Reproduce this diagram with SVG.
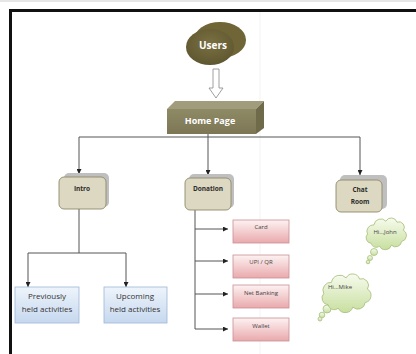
<svg xmlns="http://www.w3.org/2000/svg" width="416" height="354" viewBox="0 0 416 354">
<defs>
<style>
.lbl{font-family:"Open Sans","Liberation Sans",sans-serif;text-anchor:middle}
.wb{fill:#ffffff;font-weight:bold}
.db{fill:#2b2b2b;font-weight:bold;font-size:6.5px}
.blue{fill:url(#gBlue);stroke:#9fb6d6;stroke-width:0.8}
.pink{fill:url(#gPink);stroke:#c99093;stroke-width:0.8}
.tan{fill:#ddd8c1;stroke:#8f8a6a;stroke-width:0.9}
.shadow{fill:#bfbfbf}
.cloud{fill:url(#gCloud);stroke:#a7bf7c;stroke-width:0.8}
.conn{fill:none;stroke:#555;stroke-width:1}
.bt{fill:#333;font-size:8px}
.pt{fill:#444;font-size:6px}
</style>
<linearGradient id="gBlue" x1="0" y1="0" x2="0" y2="1"><stop offset="0" stop-color="#eef4fb"/><stop offset="1" stop-color="#c6d8ef"/></linearGradient>
<linearGradient id="gPink" x1="0" y1="0" x2="0" y2="1"><stop offset="0" stop-color="#fdf2f2"/><stop offset="1" stop-color="#e9a9ac"/></linearGradient>
<linearGradient id="gCloud" x1="0" y1="0" x2="0" y2="1"><stop offset="0" stop-color="#f7fbee"/><stop offset="1" stop-color="#c8df9f"/></linearGradient>
<linearGradient id="gFront" x1="0" y1="0" x2="0" y2="1"><stop offset="0" stop-color="#8f8a66"/><stop offset="1" stop-color="#7c7654"/></linearGradient>
<radialGradient id="gUser" cx="0.5" cy="0.4" r="0.6"><stop offset="0" stop-color="#7a7042"/><stop offset="1" stop-color="#5f5730"/></radialGradient>
<marker id="ah" viewBox="0 0 6 6" refX="6" refY="3" markerWidth="5" markerHeight="5" orient="auto" markerUnits="userSpaceOnUse"><path d="M0,0 L6,3 L0,6 Z" fill="#222"/></marker>
<path id="cloudShape" d="M20,55 A12,12 0 0 1 12,35 A14,14 0 0 1 26,15 A15,15 0 0 1 52,7 A13,13 0 0 1 76,9 A12,12 0 0 1 90,27 A13,13 0 0 1 86,51 A13,13 0 0 1 64,59 A14,14 0 0 1 38,61 A11,11 0 0 1 20,55 Z"/>
</defs>
<rect x="0" y="0" width="416" height="354" fill="#ffffff"/>
<rect x="0" y="0" width="416" height="2" fill="#e6e6e6"/>
<line x1="260" y1="12" x2="260" y2="354" stroke="#f0f0f0" stroke-width="0.8"/>
<g id="frame">
<line x1="9" y1="10.5" x2="416" y2="10.5" stroke="#111" stroke-width="3"/>
<line x1="10.5" y1="9" x2="10.5" y2="354" stroke="#111" stroke-width="3"/>
</g>
<g id="connectors">
<polygon points="213,69 219,69 219,88 223,88 216,98 209,88 213,88" fill="#fff" stroke="#888" stroke-width="0.8"/>
<line class="conn" x1="79" y1="137" x2="360" y2="137"/>
<line class="conn" x1="79" y1="137" x2="79" y2="174" marker-end="url(#ah)"/>
<line class="conn" x1="208" y1="134" x2="208" y2="175" marker-end="url(#ah)"/>
<line class="conn" x1="360" y1="137" x2="360" y2="175" marker-end="url(#ah)"/>
<line class="conn" x1="79" y1="209" x2="79" y2="253"/>
<line class="conn" x1="28" y1="253" x2="126" y2="253"/>
<line class="conn" x1="28" y1="253" x2="28" y2="287" marker-end="url(#ah)"/>
<line class="conn" x1="126" y1="253" x2="126" y2="287" marker-end="url(#ah)"/>
<line class="conn" x1="195" y1="210" x2="195" y2="329"/>
<line class="conn" x1="195" y1="229" x2="228" y2="229" marker-end="url(#ah)"/>
<line class="conn" x1="195" y1="261" x2="228" y2="261" marker-end="url(#ah)"/>
<line class="conn" x1="195" y1="294" x2="228" y2="294" marker-end="url(#ah)"/>
<line class="conn" x1="195" y1="329" x2="228" y2="329" marker-end="url(#ah)"/>
</g>
<g id="users">
<ellipse cx="220" cy="40" rx="26" ry="18" fill="#6f6536"/>
<ellipse cx="210" cy="47" rx="24" ry="18" fill="url(#gUser)"/>
<text class="lbl wb" x="213" y="49" font-size="10">Users</text>
</g>
<g id="home">
<polygon points="167,109 175,101 264,101 256,109" fill="#a19c7c"/>
<polygon points="256,109 264,101 264,128 256,134" fill="#6f6a49"/>
<rect x="167" y="109" width="89" height="25" fill="url(#gFront)"/>
<text class="lbl wb" x="210" y="124" font-size="9">Home Page</text>
</g>
<g id="intro">
<rect class="shadow" x="64" y="173" width="45" height="34" rx="5"/>
<rect class="tan" x="59" y="177" width="47" height="32" rx="5"/>
<text class="lbl db" x="82" y="191" font-size="7.5">Intro</text>
</g>
<g id="donation">
<rect class="shadow" x="189" y="174" width="45" height="34" rx="5"/>
<rect class="tan" x="185" y="178" width="46" height="32" rx="5"/>
<text class="lbl db" x="208" y="191">Donation</text>
</g>
<g id="chatroom">
<rect class="shadow" x="340" y="175" width="47" height="34" rx="5"/>
<rect class="tan" x="336" y="180" width="46" height="32" rx="5"/>
<text class="lbl db" x="360" y="192">Chat</text>
<text class="lbl db" x="360" y="204">Room</text>
</g>
<g id="previously">
<rect class="blue" x="15" y="287" width="64" height="36"/>
<text class="lbl bt" x="47" y="299">Previously</text>
<text class="lbl bt" x="47" y="312">held activities</text>
</g>
<g id="upcoming">
<rect class="blue" x="104" y="287" width="63" height="36"/>
<text class="lbl bt" x="135" y="299">Upcoming</text>
<text class="lbl bt" x="135" y="312">held activities</text>
</g>
<g id="card">
<rect class="pink" x="233" y="220" width="56" height="23"/>
<text class="lbl pt" x="261" y="229">Card</text>
</g>
<g id="upi">
<rect class="pink" x="233" y="255" width="56" height="23"/>
<text class="lbl pt" x="261" y="264">UPI / QR</text>
</g>
<g id="netbanking">
<rect class="pink" x="233" y="285" width="56" height="23"/>
<text class="lbl pt" x="261" y="295">Net Banking</text>
</g>
<g id="wallet">
<rect class="pink" x="233" y="318" width="56" height="23"/>
<text class="lbl pt" x="261" y="328">Wallet</text>
</g>
<g id="john">
<circle class="cloud" cx="374" cy="252" r="3.5"/>
<circle class="cloud" cx="370" cy="258" r="2.5"/>
<circle class="cloud" cx="368" cy="262" r="1.8"/>
<use href="#cloudShape" class="cloud" transform="translate(362,218) scale(0.46)" style="stroke-width:1.8"/>
<text class="lbl" x="385" y="234" font-size="6" fill="#444">Hi...John</text>
</g>
<g id="mike">
<circle class="cloud" cx="327" cy="309" r="4"/>
<circle class="cloud" cx="322" cy="315" r="2.8"/>
<circle class="cloud" cx="320" cy="319" r="2"/>
<use href="#cloudShape" class="cloud" transform="translate(317,274) scale(0.56)" style="stroke-width:1.5"/>
<text class="lbl" x="340" y="289" font-size="6" fill="#444">Hi...Mike</text>
</g>
</svg>
